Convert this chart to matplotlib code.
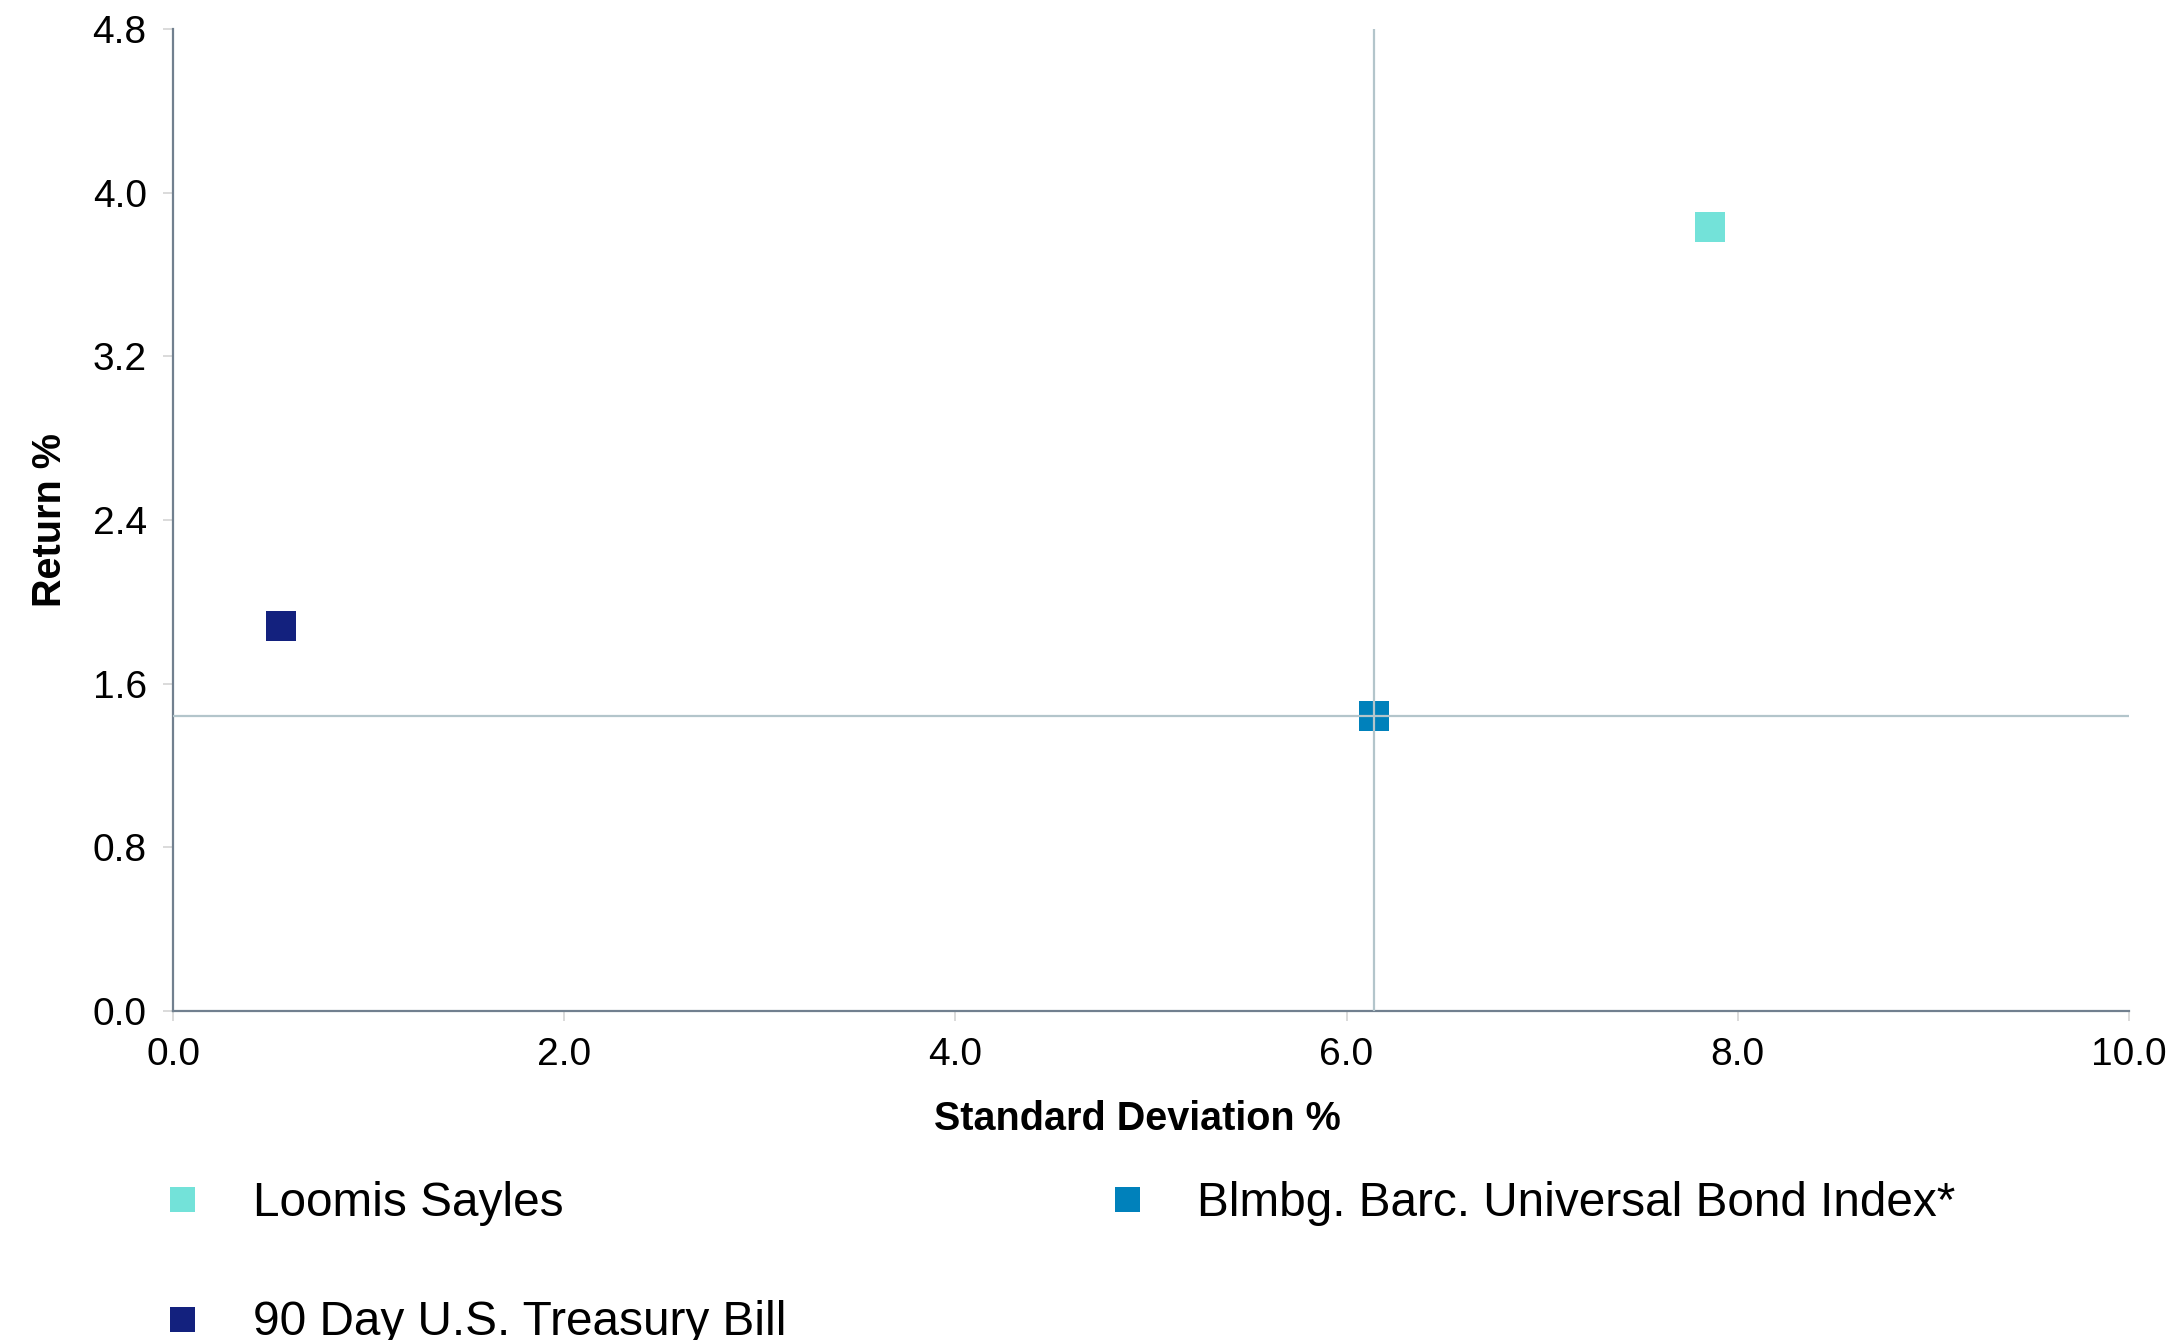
import matplotlib

matplotlib.use("Agg")
import matplotlib.pyplot as plt
from matplotlib.lines import Line2D

plt.rcParams["font.family"] = ["Liberation Sans", "DejaVu Sans"]

# risk / return points
names = ["Loomis Sayles", "Blmbg. Barc. Universal Bond Index*", "90 Day U.S. Treasury Bill"]
std_dev = [7.86, 6.14, 0.55]
returns = [3.83, 1.44, 1.88]
colors = ["#73e2d9", "#0081bb", "#13217e"]

x_ticks = [0.0, 2.0, 4.0, 6.0, 8.0, 10.0]
y_ticks = [0.0, 0.8, 1.6, 2.4, 3.2, 4.0, 4.8]
benchmark = 1  # index of the crosshair series

fig = plt.figure(figsize=(21.71, 13.40), dpi=100)
ax = fig.add_axes([0.0797, 0.2455, 0.9009, 0.7329])

for x, y, c in zip(std_dev, returns, colors):
    ax.plot([x], [y], marker="s", markersize=21, color=c, markeredgewidth=0,
            linestyle="none", zorder=3, clip_on=False)

line_col = "#b3c5cb"
ax.axvline(std_dev[benchmark], color=line_col, lw=1.6, zorder=4)
ax.axhline(returns[benchmark], color=line_col, lw=1.6, zorder=4)

ax.set_xlim(x_ticks[0], x_ticks[-1])
ax.set_ylim(y_ticks[0], y_ticks[-1])
ax.set_xticks(x_ticks)
ax.set_yticks(y_ticks)
ax.set_xticklabels([f"{v:.1f}" for v in x_ticks])
ax.set_yticklabels([f"{v:.1f}" for v in y_ticks])
ax.tick_params(axis="both", labelsize=28, length=7, width=1.2,
               color="#d4d4d4", pad=12, labelcolor="black")

for side in ["top", "right"]:
    ax.spines[side].set_visible(False)
for side in ["left", "bottom"]:
    ax.spines[side].set_color("#71808f")
    ax.spines[side].set_linewidth(1.6)

ax.set_xlabel("Standard Deviation %", fontsize=28.5, fontweight="bold")
ax.xaxis.set_label_coords(0.493, -0.11, transform=ax.transAxes)
ax.xaxis.label.set_va("center")
ax.set_ylabel("Return %", fontsize=28.5, fontweight="bold")
ax.yaxis.set_label_coords(-0.063, 0.5, transform=ax.transAxes)
ax.yaxis.label.set_va("center")

# legend: column 1 = Loomis, T-bill; column 2 = index
order = [0, 2, 1]
handles = [Line2D([], [], marker="s", markersize=18, color=colors[i],
                  markeredgewidth=0, linestyle="none") for i in order]
labels = [names[i] for i in order]
fig.legend(handles, labels, loc="upper left", bbox_to_anchor=(0.0752, 0.1185),
           ncol=2, frameon=False, fontsize=34.4, handlelength=0.8,
           handletextpad=1.07, columnspacing=6.73, labelspacing=1.55,
           borderaxespad=0, borderpad=0)

fig.savefig("out.png", dpi=100)
